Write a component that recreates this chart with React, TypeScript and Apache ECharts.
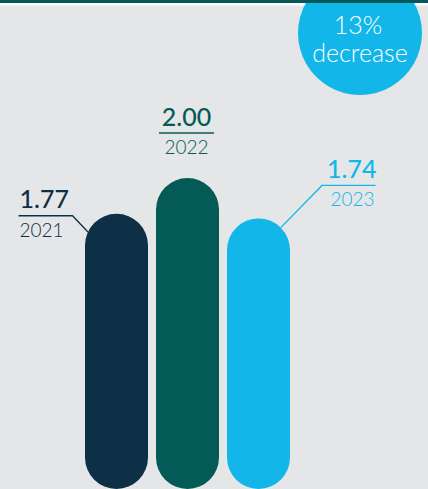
import React, { useEffect, useRef } from 'react';
import * as echarts from 'echarts';

const years = ['2021', '2022', '2023'];
const values = [1.77, 2.0, 1.74];
const valueLabels = ['1.77', '2.00', '1.74'];
const badgeText = ['13%', 'decrease'];

const COLORS = ['#0d3047', '#045a56', '#12b6e8'];
const BG = '#e5e6e8';
const FONT = 'Lato, "Open Sans", sans-serif';

export default function App() {
  const ref = useRef<HTMLDivElement>(null);
  useEffect(() => {
    document.body.style.margin = '0';
    const chart = echarts.init(ref.current!, null, { renderer: 'svg' });
    chart.setOption({
      animation: false,
      backgroundColor: BG,
      grid: { left: 81, right: 134, top: 178, bottom: 0 },
      xAxis: { type: 'category', data: years, show: false },
      yAxis: { type: 'value', min: 0, max: 2, show: false },
      series: [
        {
          type: 'bar',
          barWidth: 63,
          silent: true,
          itemStyle: { borderRadius: 31.5 },
          data: values.map((v, i) => ({ value: v, itemStyle: { color: COLORS[i] } })),
        },
      ],
    });

    const r = 31.5;
    const els: any[] = [];
    values.forEach((v, i) => {
      const [cx, ty] = chart.convertToPixel({ xAxisIndex: 0, yAxisIndex: 0 }, [i, v]) as number[];
      const color = COLORS[i];
      const ccy = ty + r;
      let lineY: number, x0: number, x1: number, tx: number, align: string, pts: number[][];
      if (i === 0) {
        lineY = ty + 2;
        x0 = cx - 98;
        x1 = cx - 44;
        const a = (205 * Math.PI) / 180;
        pts = [[x0, lineY], [x1, lineY], [cx + r * Math.cos(a), ccy + r * Math.sin(a)]];
        tx = x0 + 1;
        align = 'left';
      } else if (i === 1) {
        lineY = ty - 45;
        x0 = cx - 28.5;
        x1 = cx + 26.5;
        pts = [[x0, lineY], [x1, lineY]];
        tx = cx - 1;
        align = 'center';
      } else {
        lineY = ty - 33;
        x0 = cx + 63.5;
        x1 = cx + 117;
        const a = (-45 * Math.PI) / 180;
        pts = [[cx + r * Math.cos(a), ccy + r * Math.sin(a)], [x0, lineY], [x1, lineY]];
        tx = x1 + 1;
        align = 'right';
      }
      els.push({
        type: 'polyline',
        z: 10,
        shape: { points: pts },
        style: { stroke: color, lineWidth: 1.3, fill: null },
      });
      els.push({
        type: 'text',
        z: 10,
        style: {
          text: valueLabels[i],
          x: tx,
          y: lineY - 5,
          textAlign: align,
          textVerticalAlign: 'bottom',
          fill: color,
          fontFamily: FONT,
          fontSize: 25,
          fontWeight: 500,
        },
      });
      els.push({
        type: 'text',
        z: 10,
        style: {
          text: years[i],
          x: i === 2 ? tx - 2 : tx,
          y: lineY + 4,
          textAlign: align,
          textVerticalAlign: 'top',
          fill: color,
          fontFamily: FONT,
          fontSize: 19,
          fontWeight: 300,
        },
      });
    });

    els.push({ type: 'rect', z: 1, shape: { x: 0, y: 3, width: 428, height: 2.5 }, style: { fill: '#ffffff' } });
    els.push({ type: 'circle', z: 2, shape: { cx: 360, cy: 33, r: 62 }, style: { fill: '#12b6e8' } });
    els.push({ type: 'rect', z: 3, shape: { x: 0, y: 0, width: 428, height: 3 }, style: { fill: '#045a56' } });
    els.push({
      type: 'text',
      z: 4,
      style: {
        text: badgeText[0],
        x: 358,
        y: 36,
        textAlign: 'center',
        textVerticalAlign: 'bottom',
        fill: '#ffffff',
        fontFamily: FONT,
        fontSize: 25,
        fontWeight: 300,
      },
    });
    els.push({
      type: 'text',
      z: 4,
      style: {
        text: badgeText[1],
        x: 360,
        y: 39,
        textAlign: 'center',
        textVerticalAlign: 'top',
        fill: '#ffffff',
        fontFamily: FONT,
        fontSize: 25,
        fontWeight: 300,
      },
    });

    chart.setOption({ graphic: { elements: els } });
    return () => chart.dispose();
  }, []);
  return <div ref={ref} style={{ width: 428, height: 489 }} />;
}
